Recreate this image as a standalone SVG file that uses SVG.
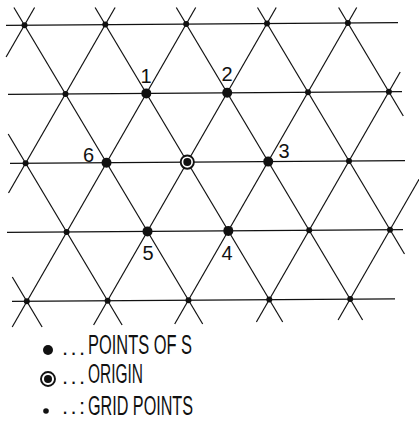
<svg xmlns="http://www.w3.org/2000/svg" width="419" height="422" viewBox="0 0 419 422">
<style>
.ln{stroke:#111;stroke-width:1.2;fill:none;stroke-linecap:butt}
.gp{fill:#111}
.sp{fill:#111}
.lbl{font-family:"Liberation Sans",Arial,sans-serif;font-size:20px;fill:#111;text-anchor:middle}
.leg{font-family:"Liberation Sans",Arial,sans-serif;font-size:27px;fill:#111}
.dots{font-family:"Liberation Sans",Arial,sans-serif;font-size:22px;fill:#111;letter-spacing:2.4px}
.ring{fill:#fff;stroke:#111;stroke-width:1.9}
</style>
<rect width="419" height="422" fill="#fff"/>
<g id="connectors">
<!-- horizontal lines -->
<line class="ln" x1="6" y1="25.3" x2="398" y2="22.6"/>
<line class="ln" x1="8" y1="94.3" x2="402" y2="91.6"/>
<line class="ln" x1="10" y1="163.3" x2="405" y2="160.6"/>
<line class="ln" x1="7" y1="232.4" x2="403" y2="229.7"/>
<line class="ln" x1="12" y1="301.4" x2="395" y2="298.8"/>
<!-- down-right lines -->
<line class="ln" x1="12.3" y1="277" x2="42.1" y2="327"/>
<line class="ln" x1="8.2" y1="134" x2="122.1" y2="325"/>
<line class="ln" x1="13.9" y1="7.5" x2="202.7" y2="324"/>
<line class="ln" x1="95.1" y1="7.5" x2="282.7" y2="322"/>
<line class="ln" x1="176.3" y1="7.5" x2="362.6" y2="320"/>
<line class="ln" x1="257.5" y1="7.5" x2="404.5" y2="254"/>
<line class="ln" x1="338.6" y1="7.5" x2="403.3" y2="116"/>
<!-- down-left lines -->
<line class="ln" x1="34.6" y1="7.5" x2="6.1" y2="57"/>
<line class="ln" x1="115.1" y1="7.5" x2="8.5" y2="193"/>
<line class="ln" x1="195.7" y1="7.5" x2="12.2" y2="327"/>
<line class="ln" x1="276.2" y1="7.5" x2="93.6" y2="325"/>
<line class="ln" x1="356.7" y1="7.5" x2="174.7" y2="324"/>
<line class="ln" x1="400.2" y1="72" x2="256.4" y2="322"/>
<line class="ln" x1="425" y1="168.9" x2="338.1" y2="320"/>
</g>
<g id="grid-points">
<circle class="gp" cx="24.5" cy="25.2" r="3"/>
<circle class="gp" cx="105.3" cy="24.6" r="3"/>
<circle class="gp" cx="186.2" cy="24.1" r="3"/>
<circle class="gp" cx="267" cy="23.5" r="3"/>
<circle class="gp" cx="347.9" cy="23" r="3"/>
<circle class="gp" cx="65.5" cy="93.9" r="3"/>
<circle class="gp" cx="308" cy="92.3" r="3"/>
<circle class="gp" cx="388.9" cy="91.7" r="3"/>
<circle class="gp" cx="25.6" cy="163.2" r="3"/>
<circle class="gp" cx="349" cy="161" r="3"/>
<circle class="gp" cx="66.6" cy="232" r="3"/>
<circle class="gp" cx="309.2" cy="230.3" r="3"/>
<circle class="gp" cx="390" cy="229.8" r="3"/>
<circle class="gp" cx="26.8" cy="301.3" r="3"/>
<circle class="gp" cx="107.6" cy="300.7" r="3"/>
<circle class="gp" cx="188.5" cy="300.2" r="3"/>
<circle class="gp" cx="269.3" cy="299.6" r="3"/>
<circle class="gp" cx="350.2" cy="299.1" r="3"/>
</g>
<g id="p1"><circle class="sp" cx="146.3" cy="93.4" r="5"/><text class="lbl" x="146" y="83">1</text></g>
<g id="p2"><circle class="sp" cx="227.2" cy="92.8" r="5"/><text class="lbl" x="227" y="81">2</text></g>
<g id="p3"><circle class="sp" cx="268.2" cy="161.6" r="5"/><text class="lbl" x="284" y="158">3</text></g>
<g id="p4"><circle class="sp" cx="228.3" cy="230.9" r="5"/><text class="lbl" x="227" y="260">4</text></g>
<g id="p5"><circle class="sp" cx="147.5" cy="231.4" r="5"/><text class="lbl" x="148" y="260">5</text></g>
<g id="p6"><circle class="sp" cx="106.5" cy="162.7" r="5"/><text class="lbl" x="88.5" y="162">6</text></g>
<g id="origin"><circle class="ring" cx="187.3" cy="162.1" r="6.6"/><circle class="sp" cx="187.3" cy="162.1" r="4"/></g>
<g id="legend">
<circle class="sp" cx="48" cy="350" r="5"/>
<text class="dots" x="62" y="355">...</text>
<text class="leg" x="88" y="354" textLength="104" lengthAdjust="spacingAndGlyphs">POINTS OF S</text>
<circle class="ring" cx="48" cy="379" r="7"/><circle class="sp" cx="48" cy="379" r="4"/>
<text class="dots" x="62" y="384">...</text>
<text class="leg" x="88" y="383" textLength="55" lengthAdjust="spacingAndGlyphs">ORIGIN</text>
<circle class="gp" cx="46" cy="411" r="2.8"/>
<text class="dots" x="62" y="414">..:</text>
<text class="leg" x="88" y="415" textLength="105" lengthAdjust="spacingAndGlyphs">GRID POINTS</text>
</g>
</svg>
